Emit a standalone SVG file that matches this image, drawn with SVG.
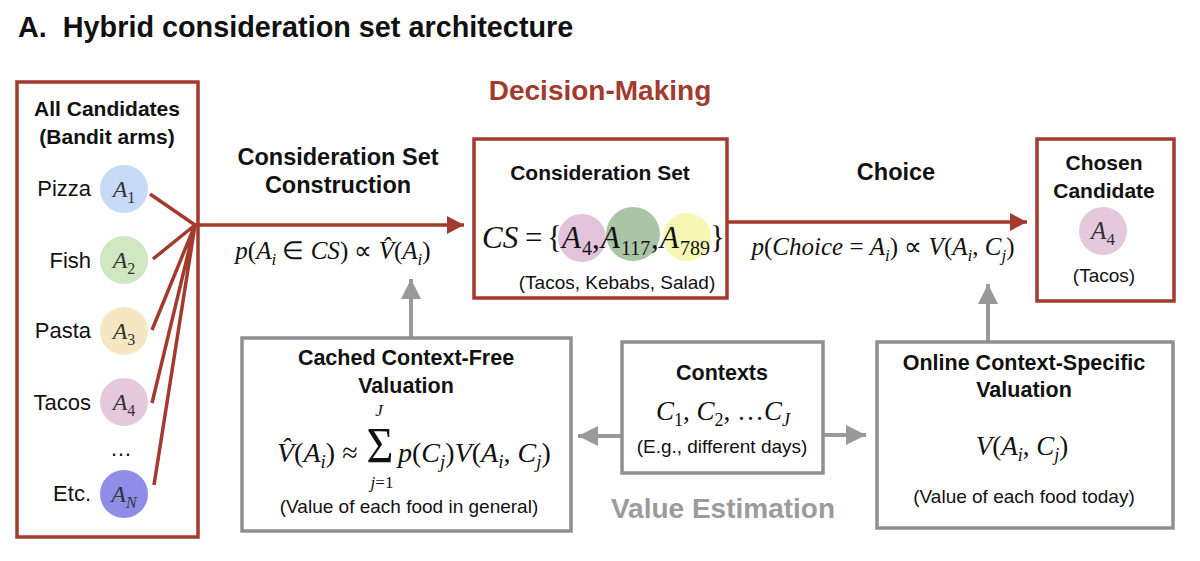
<svg xmlns="http://www.w3.org/2000/svg" width="1200" height="561" viewBox="0 0 1200 561">
<defs>
<style>
.b{font-family:"Liberation Sans",Arial,sans-serif;font-weight:bold;fill:#111}
.r{font-family:"Liberation Sans",Arial,sans-serif;fill:#111}
.m{font-family:"Liberation Serif","Times New Roman",serif;fill:#111}
.i{font-style:italic}
.redbox{fill:#fff;stroke:#a23a2e;stroke-width:3.5}
.graybox{fill:#fff;stroke:#8f8f8f;stroke-width:3.5}
.redline{stroke:#a23a2e;stroke-width:3.5;fill:none}
.grayline{stroke:#999;stroke-width:4;fill:none}
.ctext{font-family:"Liberation Serif","Times New Roman",serif;font-style:italic;fill:#333}
</style>
<marker id="ra" markerUnits="userSpaceOnUse" markerWidth="17" markerHeight="18" refX="17" refY="9" orient="auto"><path d="M0,0 L17,9 L0,18 z" fill="#a23a2e"/></marker>
<marker id="ga" markerUnits="userSpaceOnUse" markerWidth="20" markerHeight="20" refX="20" refY="10" orient="auto"><path d="M0,0 L20,10 L0,20 z" fill="#999"/></marker>
</defs>
<rect width="1200" height="561" fill="#fff"/>

<text class="b" x="18" y="37" font-size="28.8" xml:space="preserve">A.  Hybrid consideration set architecture</text>
<text class="b" x="600" y="100" font-size="28" text-anchor="middle" style="fill:#a23a2e">Decision-Making</text>
<text class="b" x="723" y="518" font-size="28" text-anchor="middle" style="fill:#9b9b9b">Value Estimation</text>

<g id="connectors">
<path class="redline" d="M150,194 L195,225 M153,259 L195,225 M152,330 L195,225 M152,403 L195,225 M154,485 L195,225"/>
<line class="redline" x1="195" y1="225" x2="464" y2="225" marker-end="url(#ra)"/>
<line class="redline" x1="727" y1="222" x2="1027" y2="222" marker-end="url(#ra)"/>
<line class="grayline" x1="411" y1="338" x2="411" y2="279" marker-end="url(#ga)"/>
<line class="grayline" x1="988" y1="342" x2="988" y2="284" marker-end="url(#ga)"/>
<line class="grayline" x1="622" y1="436" x2="578" y2="436" marker-end="url(#ga)"/>
<line class="grayline" x1="823" y1="435" x2="866" y2="435" marker-end="url(#ga)"/>
</g>

<g id="all-candidates">
<rect class="redbox" x="17" y="82" width="181" height="455" style="fill:none"/>
<text class="b" x="107" y="116" font-size="21" text-anchor="middle">All Candidates</text>
<text class="b" x="107" y="144" font-size="21" text-anchor="middle">(Bandit arms)</text>
<text class="r" x="91" y="196" font-size="22" text-anchor="end">Pizza</text>
<text class="r" x="91" y="268" font-size="22" text-anchor="end">Fish</text>
<text class="r" x="91" y="338" font-size="22" text-anchor="end">Pasta</text>
<text class="r" x="91" y="410" font-size="22" text-anchor="end">Tacos</text>
<text class="r" x="91" y="501" font-size="22" text-anchor="end">Etc.</text>
<text class="r" x="121" y="456" font-size="22" text-anchor="middle">…</text>
<circle cx="124" cy="189" r="24" fill="#c6daf5"/>
<circle cx="124" cy="260" r="24" fill="#d0e8c2"/>
<circle cx="124" cy="331" r="24" fill="#f5e7c2"/>
<circle cx="124" cy="402" r="24" fill="#e6c8de"/>
<circle cx="124" cy="494" r="24" fill="#8e8ee8"/>
<text class="ctext" x="124" y="197" font-size="24" text-anchor="middle">A<tspan dy="6" font-size="16" font-style="normal">1</tspan></text>
<text class="ctext" x="124" y="268" font-size="24" text-anchor="middle">A<tspan dy="6" font-size="16" font-style="normal">2</tspan></text>
<text class="ctext" x="124" y="339" font-size="24" text-anchor="middle">A<tspan dy="6" font-size="16" font-style="normal">3</tspan></text>
<text class="ctext" x="124" y="410" font-size="24" text-anchor="middle">A<tspan dy="6" font-size="16" font-style="normal">4</tspan></text>
<text class="ctext" x="124" y="502" font-size="24" text-anchor="middle">A<tspan dy="6" font-size="16">N</tspan></text>
</g>

<g id="cs-construction-label">
<text class="b" x="338" y="165" font-size="23.5" text-anchor="middle">Consideration Set</text>
<text class="b" x="338" y="193" font-size="23.5" text-anchor="middle">Construction</text>
<text class="m" x="333" y="259" font-size="25" text-anchor="middle"><tspan class="i">p</tspan>(<tspan class="i">A</tspan><tspan class="i" dy="6" font-size="17">i</tspan><tspan dy="-6"> ∈ </tspan><tspan class="i">CS</tspan>) ∝ <tspan class="i">V̂</tspan>(<tspan class="i">A</tspan><tspan class="i" dy="6" font-size="17">i</tspan><tspan dy="-6">)</tspan></text>
</g>

<g id="consideration-set">
<rect class="redbox" x="474" y="139" width="253" height="159"/>
<text class="b" x="600" y="180" font-size="21" text-anchor="middle">Consideration Set</text>
<circle cx="582" cy="238" r="24" fill="#e3c3dc"/>
<circle cx="633" cy="234" r="27" fill="#a9c5a5"/>
<circle cx="687" cy="237" r="24" fill="#f6f7b2"/>
<text class="m" font-size="31" y="248"><tspan class="i" x="482">CS</tspan><tspan x="525">=</tspan><tspan x="547">{</tspan><tspan class="i" x="562">A</tspan><tspan x="582" y="255" font-size="20">4</tspan><tspan x="592" y="248">,</tspan><tspan class="i" x="601">A</tspan><tspan x="621" y="255" font-size="20">117</tspan><tspan x="651" y="248">,</tspan><tspan class="i" x="660">A</tspan><tspan x="680" y="255" font-size="20">789</tspan><tspan x="710" y="248">}</tspan></text>
<text class="r" x="617" y="289" font-size="19" text-anchor="middle">(Tacos, Kebabs, Salad)</text>
</g>

<g id="choice-label">
<text class="b" x="896" y="180" font-size="23.5" text-anchor="middle">Choice</text>
<text class="m" x="883" y="255" font-size="25" text-anchor="middle"><tspan class="i">p</tspan>(<tspan class="i">Choice</tspan> = <tspan class="i">A</tspan><tspan class="i" dy="6" font-size="17">i</tspan><tspan dy="-6">) ∝ </tspan><tspan class="i">V</tspan>(<tspan class="i">A</tspan><tspan class="i" dy="6" font-size="17">i</tspan><tspan dy="-6">, </tspan><tspan class="i">C</tspan><tspan class="i" dy="6" font-size="17">j</tspan><tspan dy="-6">)</tspan></text>
</g>

<g id="chosen-candidate">
<rect class="redbox" x="1037" y="139" width="137" height="162"/>
<text class="b" x="1104" y="170" font-size="21" text-anchor="middle">Chosen</text>
<text class="b" x="1104" y="198" font-size="21" text-anchor="middle">Candidate</text>
<circle cx="1103" cy="231" r="24" fill="#e6c8de"/>
<text class="ctext" x="1103" y="239" font-size="25" text-anchor="middle">A<tspan dy="6" font-size="17" font-style="normal">4</tspan></text>
<text class="r" x="1104" y="282" font-size="19" text-anchor="middle">(Tacos)</text>
</g>

<g id="cached-valuation">
<rect class="graybox" x="242" y="338" width="329" height="193"/>
<text class="b" x="406" y="365" font-size="21.5" text-anchor="middle">Cached Context-Free</text>
<text class="b" x="406" y="393" font-size="21.5" text-anchor="middle">Valuation</text>
<text class="m" x="277" y="462" font-size="28"><tspan class="i">V̂</tspan>(<tspan class="i">A</tspan><tspan class="i" dy="6" font-size="19">i</tspan><tspan dy="-6">) ≈</tspan></text>
<text class="m" font-size="42" text-anchor="middle" transform="translate(380,462) scale(1.1,1.2)">Σ</text>
<text class="m i" x="379" y="416" font-size="17" text-anchor="middle">J</text>
<text class="m" x="382" y="488" font-size="17" text-anchor="middle"><tspan class="i">j</tspan>=1</text>
<text class="m" x="398" y="462" font-size="28"><tspan class="i">p</tspan>(<tspan class="i">C</tspan><tspan class="i" dy="6" font-size="19">j</tspan><tspan dy="-6">)</tspan><tspan class="i">V</tspan>(<tspan class="i">A</tspan><tspan class="i" dy="6" font-size="19">i</tspan><tspan dy="-6">, </tspan><tspan class="i">C</tspan><tspan class="i" dy="6" font-size="19">j</tspan><tspan dy="-6">)</tspan></text>
<text class="r" x="409" y="513" font-size="19" text-anchor="middle">(Value of each food in general)</text>
</g>

<g id="contexts">
<rect class="graybox" x="622" y="342" width="201" height="131"/>
<text class="b" x="722" y="380" font-size="21.5" text-anchor="middle">Contexts</text>
<text class="m" x="723" y="420" font-size="27" text-anchor="middle"><tspan class="i">C</tspan><tspan dy="6" font-size="18">1</tspan><tspan dy="-6">, </tspan><tspan class="i">C</tspan><tspan dy="6" font-size="18">2</tspan><tspan dy="-6">, …</tspan><tspan class="i">C</tspan><tspan class="i" dy="6" font-size="18">J</tspan></text>
<text class="r" x="722" y="453" font-size="19" text-anchor="middle">(E.g., different days)</text>
</g>

<g id="online-valuation">
<rect class="graybox" x="877" y="342" width="296" height="186"/>
<text class="b" x="1024" y="370" font-size="21.5" text-anchor="middle">Online Context-Specific</text>
<text class="b" x="1024" y="397" font-size="21.5" text-anchor="middle">Valuation</text>
<text class="m" x="1022" y="455" font-size="27" text-anchor="middle"><tspan class="i">V</tspan>(<tspan class="i">A</tspan><tspan class="i" dy="6" font-size="18">i</tspan><tspan dy="-6">, </tspan><tspan class="i">C</tspan><tspan class="i" dy="6" font-size="18">j</tspan><tspan dy="-6">)</tspan></text>
<text class="r" x="1024" y="503" font-size="19" text-anchor="middle">(Value of each food today)</text>
</g>
</svg>
